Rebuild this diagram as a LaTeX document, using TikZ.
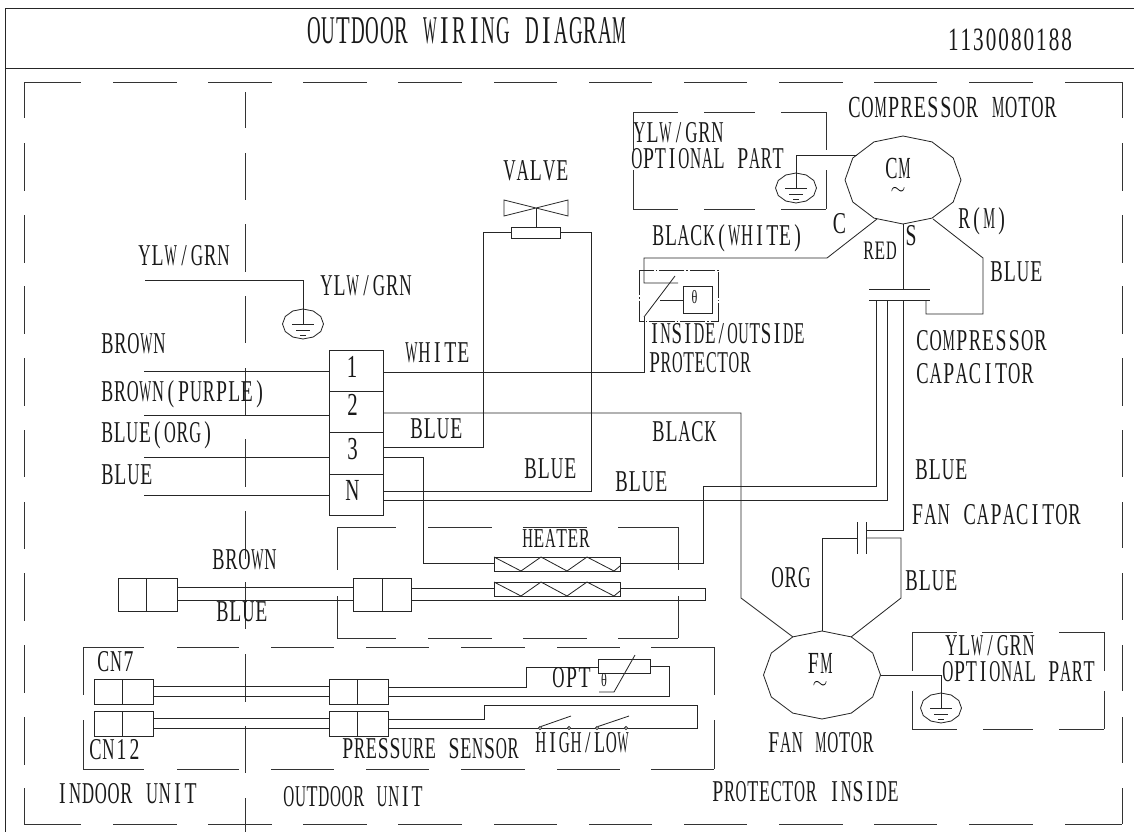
\documentclass[tikz,border=0pt]{standalone}
\usepackage{fontspec}
\usepackage{graphicx}
\usetikzlibrary{calc}
\setmainfont{Liberation Serif}
\tikzset{
  wire/.style={draw=black!85,line width=0.62pt,line join=miter},
  frameline/.style={draw=black!80,line width=0.62pt},
  lbl/.style={inner sep=0pt,outer sep=0pt,anchor=base west,text=black!90},
  rectbox/.style={draw=black!85,line width=0.62pt,inner sep=0pt,outer sep=0pt},
  dashdotline/.style={draw=black!85,line width=0.62pt,dash pattern=on 19pt off 1.5pt on 1pt off 1.5pt}
}
% fixed-pitch setting: every character sits in a cell of the same width
\newlength\cellw
\newlength\glyphw
\newsavebox\cellbox
\newcommand\cellchar[1]{\sbox\cellbox{#1}%
  \setlength\glyphw{0.65\wd\cellbox}%
  \ifdim\glyphw>0.94\cellw\setlength\glyphw{0.94\cellw}\fi
  \makebox[\cellw][c]{\ifdim\ht\cellbox>0.5pt\resizebox{\glyphw}{\height}{\usebox\cellbox}\else\usebox\cellbox\fi}}
\ExplSyntaxOn
\cs_new:Npn \charcount #1 {\str_count:n{#1}}
\NewDocumentCommand\cells{m}{\str_map_inline:nn{#1}{\cellchar{##1}}}
\ExplSyntaxOff
\newcommand\lbl[6][22.7]{%
  \edef\nch{\charcount{#6}}%
  \pgfmathsetlength\cellw{(#4-#3)*0.75pt/\nch}%
  \node[lbl] (#2) at (#3,#5) {\fontsize{#1pt}{#1pt}\selectfont\cells{#6}};}
\newcommand\rbox[5]{%
  \pgfmathsetlengthmacro\rw{(#4-#2)*0.75pt}%
  \pgfmathsetlengthmacro\rh{(#5-#3)*0.75pt}%
  \node[rectbox,minimum width=\rw,minimum height=\rh] (#1) at ({(#2+#4)/2},{(#3+#5)/2}) {};}
\newcommand\pt[3]{\coordinate (#1) at (#2,#3);}
\newcommand\hd[2]{\foreach \a/\b in {#2} {\draw[frameline] (\a,#1) -- (\b,#1);}}
\newcommand\vd[2]{\foreach \a/\b in {#2} {\draw[frameline] (#1,\a) -- (#1,\b);}}
% stretched twelve-sided outline
\newcommand\dodeca[3]{\draw[wire] ($(#1)+(#2,0)$) \foreach \t in {30,60,...,330} { -- ($(#1)+({#2*cos(\t)},{#3*sin(\t)})$)} -- cycle;}
% earth symbol
\newcommand\earth[1]{%
  \dodeca{#1}{20.5}{15}
  \draw[wire] ($(#1)+(0,-15)$) -- ($(#1)+(0,0)$);
  \draw[wire] ($(#1)+(-11,0)$) -- ($(#1)+(11,0)$);
  \draw[wire] ($(#1)+(-7,6)$) -- ($(#1)+(7,6)$);
  \draw[wire] ($(#1)+(-3,11)$) -- ($(#1)+(3,11)$);}
% heater element
\newcommand\heater[3]{%
  \rbox{#1}{494}{#2}{620}{#3}
  \draw[wire] (494,#2) -- (521,#3) -- (541,#2) -- (567,#3) -- (587,#2) -- (614,#3) -- (620,{#3-5});}
\begin{document}
\begin{tikzpicture}[x=0.75pt,y=-0.75pt]
\useasboundingbox (0,0) rectangle (1134,832);
% title frame
\draw[wire] (1134,8) -- (5,8) -- (5,832);
\draw[wire] (5,68) -- (1134,68);
\lbl[29.5]{title}{307}{627}{43}{OUTDOOR WIRING DIAGRAM}
\lbl[24.4]{code}{947}{1073}{50}{1130080188}
% outer dashed frame
\hd{82}{24/81,113/177,208/272,303/367,398/462,494/557,589/652,684/747,779/843,874/937,969/1033,1065/1122}
\hd{824}{24/81,113/177,208/272,303/367,398/462,494/557,589/652,684/747,779/843,874/937,969/1033,1065/1122}
\vd{24}{82/118,143/191,215/263,286/334,358/406,430/477,502/549,573/621,645/693,717/765,788/824}
\vd{1122}{82/118,143/191,215/263,286/334,358/406,430/477,502/548,573/620,645/691,717/763,788/824}
% indoor / outdoor divider
\vd{245}{92/128,153/200,224/272,296/343,368/415,439/487,511/559,582/629,654/702,726/773,798/832}
% compressor earth box
\hd{112}{633/678,704/755,781/826}
\hd{209}{633/678,704/755,781/826}
\vd{633}{112/150,170/209}
\vd{826}{112/150,170/209}
% fan earth box
\hd{632}{912/957,982/1033,1059/1104}
\hd{729}{912/957,983/1033,1059/1104}
\vd{912}{632/671,691/729}
\vd{1104}{632/671,691/729}
% heater dashed box
\hd{527}{337/396,428/492,523/587,618/678}
\hd{638}{337/396,428/492,523/587,618/678}
\vd{337}{527/570,596/638}
\vd{678}{527/570,596/638}
% sensor dashed box
\hd{647}{83/144,177/239,271/334,366/429,461/525,557/620,651/714}
\hd{769}{83/144,177/239,271/334,366/429,461/525,557/620,651/714}
\vd{83}{647/695,720/769}
\vd{714}{647/695,720/769}
% motors
\pt{cm}{903}{180}
\dodeca{cm}{58}{44}
\pt{fm}{822}{675}
\dodeca{fm}{58.5}{44}
\lbl[23]{cmt}{885}{911}{178}{CM}
\node[inner sep=0pt] (cmw) at (898,191) {\fontsize{15pt}{15pt}\selectfont$\sim$};
\lbl[23]{fmt}{807}{833}{673}{FM}
\node[inner sep=0pt] (fmw) at (820,685) {\fontsize{15pt}{15pt}\selectfont$\sim$};
% earths
\pt{ea}{796}{188}
\pt{eb}{303}{324}
\pt{ec}{941}{708}
\earth{ea}
\earth{eb}
\earth{ec}
\pt{cmg}{857}{155}
\pt{eatop}{796}{173}
\draw[wire] (cmg) -| (eatop);
\pt{ygl}{145}{280}
\pt{ebtop}{303}{309}
\draw[wire] (ygl) -| (ebtop);
\pt{fmg}{880.5}{675}
\pt{ectop}{941}{693}
\draw[wire] (fmg) -| (ectop);
% terminal block
\rbox{tb1}{329}{350}{383}{391}
\rbox{tb2}{329}{391}{383}{432}
\rbox{tb3}{329}{432}{383}{474}
\rbox{tbn}{329}{474}{383}{515}
\lbl[24]{n1}{346}{358}{377}{1}
\lbl[24]{n2}{346}{359}{415}{2}
\lbl[24]{n3}{346}{359}{459}{3}
\lbl[23]{nn}{345}{360}{500}{N}
\foreach \nm/\yy in {a/371,b/415,c/457,d/495} {
  \pt{l\nm}{144}{\yy}
  \pt{r\nm}{329}{\yy}
  \draw[wire] (l\nm) -- (r\nm);
}
% valve
\rbox{valve}{511}{227}{560}{238}
\pt{vstem}{536}{208}
\pt{vb}{536}{227}
\draw[wire] (vstem) -- (vb);
\draw[wire] (504,200) -- (568,216) -- (568,200) -- (504,216) -- cycle;
\pt{t3a}{383}{447}
\pt{vl}{511}{232}
\draw[wire] (t3a) -- (483,447) -- (483,232) -- (vl);
\pt{tna}{383}{491}
\pt{vr}{560}{232}
\draw[wire] (tna) -- (591,491) -- (591,232) -- (vr);
% protector
\draw[dashdotline] (639,270) rectangle (718,321);
\rbox{theta}{683}{286}{712}{313}
\lbl[14]{thetat}{691}{698}{303}{θ}
\pt{swa}{644}{317}
\pt{swb}{675}{276}
\draw[wire] (swa) -- (swb);
\pt{swm}{660}{300}
\pt{thl}{683}{300}
\draw[wire] (swm) -- (thl);
\pt{cmc}{877}{219}
\pt{swc}{678}{283}
\draw[wire] (cmc) -- (827,258) -- (644,258) -- (644,283) -- (swc);
\pt{t1a}{383}{372}
\draw[wire] (t1a) -- (644,372) -- (swa);
% compressor capacitor
\pt{cpa}{869}{289}
\pt{cpb}{930}{289}
\pt{cpc}{869}{300}
\pt{cpd}{930}{300}
\draw[wire] (cpa) -- (cpb);
\draw[wire] (cpc) -- (cpd);
\pt{cms}{903}{224}
\pt{cpt}{903}{289}
\draw[wire] (cms) -- (cpt);
\pt{cmr}{933}{219}
\pt{cpr}{926}{300}
\draw[wire] (cmr) -- (983,258) -- (983,314) -- (926,314) -- (cpr);
% heaters
\heater{hta}{557}{571}
\heater{htb}{582}{596}
\pt{cp1}{876}{300}
\pt{htar}{620}{563}
\draw[wire] (cp1) -- (876,486) -- (703,486) -- (703,563) -- (htar);
\pt{cp2}{887}{300}
\pt{tnb}{383}{500}
\draw[wire] (cp2) -- (887,500) -- (tnb);
\pt{t3b}{383}{457}
\pt{htal}{494}{563}
\draw[wire] (t3b) -- (423,457) -- (423,563) -- (htal);
% fan capacitor
\pt{fca}{857}{522}
\pt{fcb}{857}{554}
\pt{fcc}{866}{522}
\pt{fcd}{866}{554}
\draw[wire] (fca) -- (fcb);
\draw[wire] (fcc) -- (fcd);
\pt{cp3}{903}{300}
\pt{fcup}{866}{530}
\draw[wire] (cp3) -- (903,530) -- (fcup);
\pt{fcl}{857}{538}
\pt{fmtop}{822}{631}
\draw[wire] (fcl) -- (822,538) -- (fmtop);
\pt{fcr}{866}{538}
\pt{fmr}{851}{637}
\draw[wire] (fcr) -- (901,538) -- (901,598) -- (fmr);
\pt{t2a}{383}{413}
\pt{fml}{793}{637}
\draw[wire] (t2a) -- (741,413) -- (741,598) -- (fml);
% power connectors
\rbox{pca}{118}{578}{146}{611}
\rbox{pcb}{146}{578}{177}{611}
\rbox{pcc}{353}{578}{382}{611}
\rbox{pcd}{382}{578}{411}{611}
\pt{pw1}{177}{587}
\pt{pw2}{353}{587}
\pt{pw3}{177}{600}
\pt{pw4}{353}{600}
\draw[wire] (pw1) -- (pw2);
\draw[wire] (pw3) -- (pw4);
\pt{pw5}{411}{588}
\pt{htbl}{494}{588}
\draw[wire] (pw5) -- (htbl);
\pt{htbr}{620}{588}
\pt{pw6}{411}{600}
\draw[wire] (htbr) -- (705,588) -- (705,600) -- (pw6);
% sensor connectors
\rbox{sa}{94.5}{679}{122}{704}
\rbox{sb}{122}{679}{153}{704}
\rbox{sc}{329}{679}{357.5}{704}
\rbox{sd}{357.5}{679}{388}{704}
\rbox{se}{94.5}{711}{122}{736}
\rbox{sf}{122}{711}{153}{736}
\rbox{sg}{329}{711}{357.5}{736}
\rbox{sh}{357.5}{711}{388}{736}
\foreach \nm/\yy in {a/686,b/696,c/718,d/728} {
  \pt{sl\nm}{153}{\yy}
  \pt{sr\nm}{329}{\yy}
  \draw[wire] (sl\nm) -- (sr\nm);
}
\rbox{sens}{598}{659}{650}{673}
\pt{so1}{388}{687}
\pt{sensl}{598}{667}
\draw[wire] (so1) -- (526,687) -- (526,667) -- (sensl);
\pt{sensr}{650}{666}
\pt{so2}{388}{696}
\draw[wire] (sensr) -- (669,666) -- (669,696) -- (so2);
\draw[wire] (635,655) -- (614,692) -- (599,692);
\pt{so3}{388}{719}
\pt{so4}{388}{728}
\draw[wire] (so3) -- (484,719) -- (484,705) -- (697,705) -- (697,728) -- (so4);
\foreach \xx in {540,569,597,626} {\draw[wire,fill=white] (\xx,728) circle[radius=1.6];}
\draw[wire] (541,726.5) -- (571,716);
\draw[wire] (598,726.5) -- (629,716);
% labels
\lbl[23]{a1}{848}{1057}{117}{COMPRESSOR MOTOR}
\lbl{a2}{633}{724}{142}{YLW/GRN}
\lbl{a3}{631}{784}{168}{OPTIONAL PART}
\lbl{a4}{832}{847}{233}{C}
\lbl{a5}{958}{1008}{228}{R(M)}
\lbl{a6}{904}{918}{245}{S}
\lbl[20]{a7}{863}{897}{259}{RED}
\lbl{a8}{990}{1043}{281}{BLUE}
\lbl{a9}{652}{804}{245}{BLACK(WHITE)}
\lbl{a10}{649}{805}{343}{INSIDE/OUTSIDE}
\lbl{a11}{649}{751}{372}{PROTECTOR}
\lbl{a12}{916}{1047}{350}{COMPRESSOR}
\lbl{a13}{916}{1034}{383}{CAPACITOR}
\lbl{a14}{503}{569}{180}{VALVE}
\lbl{b1}{138}{230}{265}{YLW/GRN}
\lbl{b2}{320}{412}{295}{YLW/GRN}
\lbl{b3}{101}{166}{353}{BROWN}
\lbl{b4}{101}{266}{401}{BROWN(PURPLE)}
\lbl{b5}{101}{214}{442}{BLUE(ORG)}
\lbl{b6}{101}{153}{484}{BLUE}
\lbl{b7}{212}{277}{569}{BROWN}
\lbl{b8}{216}{268}{621}{BLUE}
\lbl{c1}{405}{470}{362}{WHITE}
\lbl{c2}{410}{463}{438}{BLUE}
\lbl{c3}{524}{577}{478}{BLUE}
\lbl{c4}{652}{717}{441}{BLACK}
\lbl{c5}{615}{668}{491}{BLUE}
\lbl[20.5]{c6}{522}{590}{547}{HEATER}
\lbl{d1}{915}{968}{479}{BLUE}
\lbl{d2}{911}{1081}{524}{FAN CAPACITOR}
\lbl{d3}{771}{811}{587}{ORG}
\lbl{d4}{905}{958}{590}{BLUE}
\lbl{d5}{768}{874}{752}{FAN MOTOR}
\lbl{d6}{712}{899}{801}{PROTECTOR INSIDE}
\lbl{d7}{945}{1035}{655}{YLW/GRN}
\lbl{d8}{942}{1095}{681}{OPTIONAL PART}
\lbl{e1}{97}{135}{671}{CN7}
\lbl{e2}{89}{141}{759}{CN12}
\lbl{e3}{342}{519}{758}{PRESSURE SENSOR}
\lbl{e4}{535}{629}{752}{HIGH/LOW}
\lbl{e5}{552}{591}{687}{OPT}
\lbl[14]{e6}{600}{608}{686}{θ}
\lbl{e7}{56}{197}{803}{INDOOR UNIT}
\lbl{e8}{283}{423}{806}{OUTDOOR UNIT}
\end{tikzpicture}
\end{document}
